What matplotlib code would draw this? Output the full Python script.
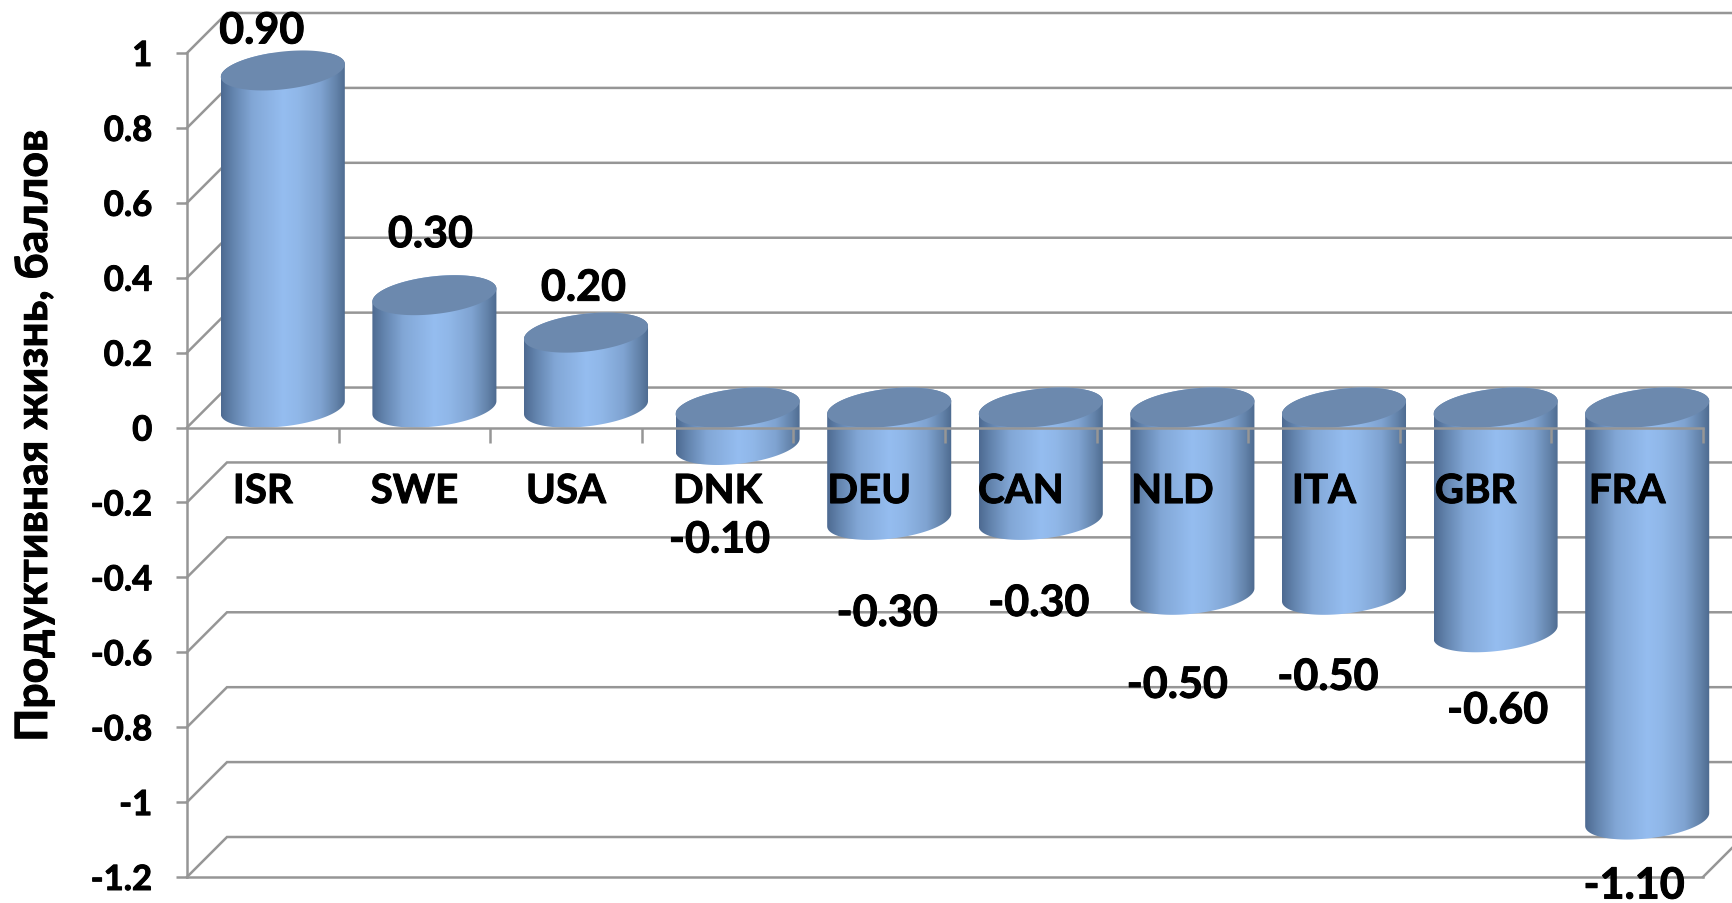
# Libraries I need.
import numpy as np
from matplotlib import pyplot as plt
from matplotlib import patheffects
from matplotlib.colors import LinearSegmentedColormap
from matplotlib.patches import Polygon

# Chart data.
countries = ['ISR', 'SWE', 'USA', 'DNK', 'DEU', 'CAN', 'NLD', 'ITA', 'GBR', 'FRA']
scores = [0.90, 0.30, 0.20, -0.10, -0.30, -0.30, -0.50, -0.50, -0.60, -1.10]
y_ticks = [1, 0.8, 0.6, 0.4, 0.2, 0, -0.2, -0.4, -0.6, -0.8, -1, -1.2]
y_tick_labels = ['1', '0.8', '0.6', '0.4', '0.2', '0', '-0.2', '-0.4', '-0.6', '-0.8', '-1', '-1.2']
y_title = 'Продуктивная жизнь, баллов'

# Hand placed value labels, pixels away from the front of each bar end.
label_dx = [-1, 16, 17.5, 2, 18, 18, 5, 4, 22, 7]
label_dy = [60, 81, 65, -74.5, -73, -63, -70, -62, -58, -46]

FONT = ['Lato', 'Open Sans', 'DejaVu Sans']
WIDTH, HEIGHT = 1733, 904
LEFT, RIGHT, TOP, BOTTOM = 187, 1703, 54, 878
GRID = '#969696'
DEPTH_PX = 40

plt.rcParams['font.family'] = FONT
plt.rcParams['font.weight'] = 'bold'

fig = plt.figure(figsize=(WIDTH / 100, HEIGHT / 100), dpi=100)
# The axes run to the edge of the figure so the last cylinder and the wall are not cut.
ax = fig.add_axes([LEFT / WIDTH, 1 - BOTTOM / HEIGHT, (WIDTH - LEFT) / WIDTH, (BOTTOM - TOP) / HEIGHT])

# Pseudo 3D depth, in data units.
x_unit = (RIGHT - LEFT) / len(countries)
y_unit = (BOTTOM - TOP) / 2.2
depth_x = DEPTH_PX / x_unit
depth_y = DEPTH_PX / y_unit
radius_x = 58.7 / x_unit

cyl_cmap = LinearSegmentedColormap.from_list('cyl', [
    (0.0, '#4d6a91'), (0.1, '#6485af'), (0.25, '#82a7d6'), (0.5, '#95bdf0'),
    (0.62, '#90b7e8'), (0.8, '#7fa3d1'), (0.92, '#6484ab'), (1.0, '#4d6a8f')])
TOP_COLOR = '#6c89ae'

# Slightly heavier letters than the plain bold.
heavy = [patheffects.withStroke(linewidth=0.7, foreground='black')]


def ring(center_x, center_y, t):
    """
    Point on the tilted circle that closes a cylinder.
    """
    x = center_x + radius_x * np.cos(t) + depth_x / 2 * np.sin(t)
    y = center_y + depth_y / 2 * np.sin(t)
    return np.column_stack([x, y])


# Back wall and the left side lines.
for tick in y_ticks:
    ax.plot([0, depth_x, len(countries) + depth_x], [tick, tick + depth_y, tick + depth_y],
            color=GRID, lw=1.8, clip_on=False, solid_joinstyle='miter', zorder=1)

# The right end of the floor.
ax.plot([len(countries), len(countries) + depth_x], [-1.2, -1.2 + depth_y], color=GRID, lw=1.8,
        clip_on=False, zorder=1)

# Cylinders.
gradient = np.linspace(0, 1, 256).reshape(1, -1)
edge_t = np.arctan2(depth_x / 2, radius_x)
half_width = np.hypot(radius_x, depth_x / 2)
for i, value in enumerate(scores):
    center_x = i + 0.5 + depth_x / 2
    high = max(value, 0) + depth_y / 2
    low = min(value, 0) + depth_y / 2

    lower_arc = ring(center_x, low, np.linspace(np.pi + edge_t, 2 * np.pi + edge_t, 80))
    upper_arc = ring(center_x, high, np.linspace(edge_t, np.pi + edge_t, 80))
    body = Polygon(np.vstack([lower_arc, upper_arc]), closed=True, transform=ax.transData,
                   facecolor='none', edgecolor='none')
    ax.add_patch(body)
    image = ax.imshow(gradient, cmap=cyl_cmap, aspect='auto', zorder=2,
                      extent=[center_x - half_width, center_x + half_width, low - 0.1, high + 0.1])
    image.set_clip_path(body)

    cap = Polygon(ring(center_x, high, np.linspace(0, 2 * np.pi, 160)), closed=True,
                  facecolor=TOP_COLOR, edgecolor='none', zorder=3, clip_on=False)
    ax.add_patch(cap)

ax.set_xlim(0, (WIDTH - LEFT) / x_unit)
ax.set_ylim(-1.2, 1)

# Zero line and its ticks sit on top of the bars.
ax.plot([0, len(countries)], [0, 0], color=GRID, lw=1.8, zorder=4)
ax.vlines(np.arange(1, len(countries) + 1), -15 / y_unit, 0, color=GRID, lw=1.8, zorder=4)

# Axes.
for side in ['top', 'right']:
    ax.spines[side].set_visible(False)
for side in ['left', 'bottom']:
    ax.spines[side].set_color(GRID)
    ax.spines[side].set_linewidth(1.8)
    ax.spines[side].set_zorder(1.5)
ax.spines['bottom'].set_bounds(0, len(countries))
ax.patch.set_alpha(0)
ax.set_xticks([])
ax.set_yticks(y_ticks)
ax.set_yticklabels(y_tick_labels, fontsize=25, fontweight='bold', color='black', path_effects=heavy)
ax.tick_params(axis='y', length=8, width=1.8, color=GRID, pad=17)

# Country names, inside the plot under the zero line.
for i, name in enumerate(countries):
    ax.text(i + 0.5, -64 / y_unit, name, ha='center', va='center', fontsize=29, fontweight='bold',
            zorder=5, path_effects=heavy)

# Value labels.
for i, value in enumerate(scores):
    ax.annotate(f'{value:.2f}', xy=(i + 0.5, value), xytext=(label_dx[i] * 0.72, label_dy[i] * 0.72),
                textcoords='offset points', ha='center', va='center', fontsize=31,
                fontweight='bold', annotation_clip=False, zorder=6, path_effects=heavy)

fig.text(34 / WIDTH, 1 - 436 / HEIGHT, y_title, rotation=90, ha='center', va='center', fontsize=32,
         fontweight='bold', path_effects=heavy)

fig.savefig('out.png', dpi=100)
